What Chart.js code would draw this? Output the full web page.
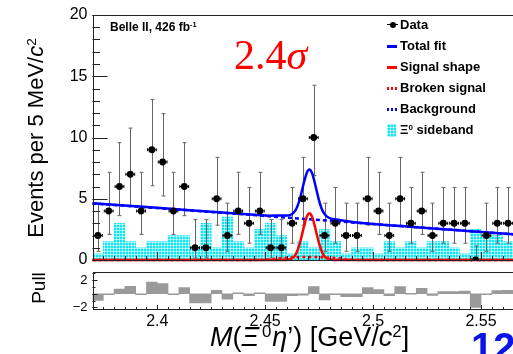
<!DOCTYPE html>
<html>
<head>
<meta charset="utf-8">
<script src="https://cdn.jsdelivr.net/npm/chart.js@4.4.1/dist/chart.umd.min.js"></script>
<style>
  html, body { margin: 0; padding: 0; background: #fff; overflow: hidden; }
  #wrap { position: relative; width: 513px; height: 354px; overflow: hidden;
          font-family: "Liberation Sans", Arial, sans-serif; color: #000; }
  canvas { position: absolute; left: 0; }
  #main { top: 0; }
  #pull { top: 262px; }
  .t { position: absolute; white-space: nowrap; }
  .leg { position: absolute; left: 400px; font: bold 13px "Liberation Sans", Arial, sans-serif; line-height: 16px; }
  .sym { position: absolute; left: 387px; width: 10px; }
  .rot { position: absolute; transform: rotate(-90deg); text-align: center; white-space: nowrap; }
  sup { font-size: 62%; vertical-align: 0; position: relative; top: -0.55em; }
</style>
</head>
<body>
<div id="wrap">
  <canvas id="main" width="540" height="264"></canvas>
  <canvas id="pull" width="540" height="92"></canvas>

  <div class="t" style="left:110px;top:20px;font:bold 12px 'Liberation Sans',Arial,sans-serif;">Belle II, 426 fb<sup>-1</sup></div>
  <div class="t" style="left:234px;top:34px;font:42px 'Liberation Serif','DejaVu Serif',serif;line-height:42px;color:#f00;">2.4<i>σ</i></div>

  <!-- legend -->
  <div class="sym" style="top:24px;height:1px;background:#000;width:11px;"></div>
  <div class="sym" style="top:21.5px;left:389.5px;width:6px;height:6px;border-radius:50%;background:#000;"></div>
  <div class="leg" style="top:17px;">Data</div>
  <div class="sym" style="top:44.5px;height:3px;background:#00f;"></div>
  <div class="leg" style="top:38px;">Total fit</div>
  <div class="sym" style="top:65.5px;height:3px;background:#f00;"></div>
  <div class="leg" style="top:59px;">Signal shape</div>
  <div class="sym" style="top:86.5px;height:3px;background:repeating-linear-gradient(90deg,#f00 0 2.5px,transparent 2.5px 4px);"></div>
  <div class="leg" style="top:80px;">Broken signal</div>
  <div class="sym" style="top:107.5px;height:3px;background:repeating-linear-gradient(90deg,#00f 0 2.5px,transparent 2.5px 4px);"></div>
  <div class="leg" style="top:101px;">Background</div>
  <div class="sym" style="top:124px;height:13px;width:9px;background-color:#12e4f0;background-image:linear-gradient(rgba(255,255,255,.55) 1px,transparent 1px),linear-gradient(90deg,rgba(255,255,255,.55) 1px,transparent 1px);background-size:3px 3px;"></div>
  <div class="leg" style="top:122px;">Ξ<sup>0</sup> sideband</div>

  <!-- axis titles -->
  <div class="rot" style="left:-84px;top:125px;width:240px;height:26px;line-height:26px;font-size:22px;">Events per 5 MeV/<i>c</i><sup>2</sup></div>
  <div class="rot" style="left:9px;top:277px;width:60px;height:22px;line-height:22px;font-size:19px;">Pull</div>
  <div class="t" style="left:210px;top:322px;font-size:27px;line-height:30px;"><i>M</i>(<i>Ξ</i><sup style="margin:0 1px 0 3px;">0</sup><i>η</i>’) [GeV/<i>c</i><sup>2</sup>]</div>

  <div class="t" style="left:471px;top:327px;font:bold 40px 'Liberation Sans',Arial,sans-serif;line-height:40px;color:#0a14e6;">12</div>
</div>

<script>
// bins of 5 MeV/c^2, starting at 2.37 GeV/c^2
const binCenters = [2.3725, 2.3775, 2.3825, 2.3875, 2.3925, 2.3975, 2.4025, 2.4075, 2.4125, 2.4175,
  2.4225, 2.4275, 2.4325, 2.4375, 2.4425, 2.4475, 2.4525, 2.4575, 2.4625, 2.4675,
  2.4725, 2.4775, 2.4825, 2.4875, 2.4925, 2.4975, 2.5025, 2.5075, 2.5125, 2.5175,
  2.5225, 2.5275, 2.5325, 2.5375, 2.5425, 2.5475, 2.5525, 2.5575, 2.5625];
const binHalfWidth = 0.0025;

const counts = [2, 4, 6, 7, 4, 9, 8, 4, 6, 1, 1, 5, 2, 4, 3, 4, 1, 1, 3, 5,
  10, 2, 3, 2, 2, 5, 4, 2, 5, 3, 4, 2, 3, 3, 3, 0, 2, 3, 3];

// Poisson interval edges for a count n (index = n)
const poissonLow = [0, 0.17, 0.71, 1.37, 2.09, 2.84, 3.62, 4.42, 5.23, 6.06, 6.89];
const poissonHigh = [1.15, 3.30, 4.64, 5.92, 7.16, 8.38, 9.58, 10.77, 11.95, 13.11, 14.27];

const sideband = [0.5, 1.5, 3, 1.5, 1, 1.5, 1.5, 2, 2, 1, 3, 1, 3.5, 1.5, 1, 2.5, 3, 2, 0.5, 1.5,
  1, 2.5, 1.5, 0.5, 1, 1, 0.5, 1.5, 1, 1.5, 1, 1.5, 1.5, 1, 0.5, 2.5, 2, 2, 1.5];

const pulls = [-1.0, -0.1, 0.7, 1.1, -0.15, 1.7, 1.5, -0.1, 0.9, -1.35, -1.35, 0.5, -0.8, 0.1, -0.3, 0.1,
  -1.15, -1.15, -0.3, -0.2, 1.05, -0.9, -0.1, -0.45, -0.45, 0.9, 0.6, -0.3, 1.05, 0.0, 0.8, -0.25,
  0.3, 0.3, 0.4, -2.0, -0.1, 0.45, 0.5];

// fit curves
const bkgX = [2.37, 2.40, 2.43, 2.46, 2.49, 2.52, 2.55, 2.575];
const bkgY = [4.62, 4.24, 3.86, 3.46, 3.07, 2.68, 2.29, 1.97];

const sigX = [2.37, 2.4585, 2.4605, 2.4625, 2.464, 2.465, 2.466, 2.467, 2.468, 2.4693, 2.4705,
  2.4717, 2.473, 2.474, 2.475, 2.476, 2.477, 2.4785, 2.4805, 2.4825, 2.575];
const sigY = [0, 0, 0.02, 0.14, 0.42, 0.79, 1.33, 2.02, 2.76, 3.54, 3.82,
  3.54, 2.76, 2.02, 1.33, 0.79, 0.42, 0.14, 0.02, 0, 0];

const brokenX = [2.37, 2.445, 2.452, 2.458, 2.464, 2.4705, 2.477, 2.483, 2.489, 2.496, 2.575];
const brokenY = [0, 0, 0.05, 0.15, 0.22, 0.25, 0.22, 0.15, 0.05, 0, 0];

const totalX = [2.37, 2.40, 2.43, 2.445, 2.452, 2.458, 2.4605, 2.4625, 2.464, 2.465, 2.466, 2.467, 2.468,
  2.4693, 2.4705, 2.4717, 2.473, 2.474, 2.475, 2.476, 2.477, 2.4785, 2.4805, 2.483, 2.489, 2.496,
  2.52, 2.55, 2.575];
const totalY = [4.64, 4.26, 3.88, 3.69, 3.62, 3.64, 3.64, 3.76, 4.05, 4.42, 4.94, 5.63, 6.36,
  7.13, 7.39, 7.10, 6.29, 5.54, 4.82, 4.27, 3.88, 3.56, 3.38, 3.31, 3.14, 3.0,
  2.68, 2.29, 1.97];

const xMin = 2.37;
const xMax = 2.575;
const xTicks = [2.40, 2.45, 2.50, 2.55];
const yTicks = [0, 5, 10, 15, 20];
const pullTicks = [-2, 0, 2];

const FONT = '"Liberation Sans", Arial, sans-serif';
const AXIS_W = 92.5;

const xy = (xs, ys) => xs.map((x, i) => ({ x, y: ys[i] }));
const steps = (from, to, step) => {
  const out = [];
  for (let v = from; v <= to + 1e-9; v += step) out.push(+v.toFixed(4));
  return out;
};
// fixed axis sizes, no extra room for overhanging tick labels
const fixWidth = (s) => { s.width = AXIS_W; s.paddingTop = 0; s.paddingBottom = 0; };
const fixHeight = (h) => (s) => { s.height = h; s.paddingLeft = 0; s.paddingRight = 0; };
const noGrid = { display: false, drawTicks: false };

// ROOT-like frame with ticks pointing inwards
const rootFrame = {
  id: 'rootFrame',
  afterDraw(chart, args, o) {
    const { ctx, chartArea: a, scales: { x, y } } = chart;
    ctx.save();
    ctx.strokeStyle = '#222';
    ctx.lineWidth = 1;
    ctx.beginPath();
    const vx = (vals, len) => vals.forEach((v) => {
      const px = Math.round(x.getPixelForValue(v)) + 0.5;
      ctx.moveTo(px, a.bottom);
      ctx.lineTo(px, a.bottom - len);
    });
    const vy = (vals, len) => vals.forEach((v) => {
      const py = Math.round(y.getPixelForValue(v)) + 0.5;
      ctx.moveTo(a.left, py);
      ctx.lineTo(a.left + len, py);
    });
    vx(o.xMinor, o.xMinLen);
    vx(xTicks, o.xMajLen);
    vy(o.yMinor, o.yMinLen);
    vy(o.yMajor, o.yMajLen);
    ctx.stroke();
    ctx.strokeRect(Math.round(a.left) + 0.5, Math.round(a.top) + 0.5, a.width, Math.round(a.height));
    ctx.restore();
  },
};

// error bars go on top of the sideband histogram, under the curves
const errorBars = {
  id: 'errorBars',
  afterDatasetDraw(chart, args) {
    if (args.index !== 0) return;
    const { ctx, scales: { x, y } } = chart;
    ctx.save();
    ctx.lineWidth = 1;
    binCenters.forEach((c, i) => {
      const n = counts[i];
      const px = Math.round(x.getPixelForValue(c)) + 0.5;
      const top = y.getPixelForValue(poissonHigh[n]);
      const bot = y.getPixelForValue(poissonLow[n]);
      const py = y.getPixelForValue(n);
      ctx.strokeStyle = '#666';
      ctx.beginPath();
      ctx.moveTo(px, top); ctx.lineTo(px, bot);
      ctx.moveTo(px - 2, top); ctx.lineTo(px + 2, top);
      if (n > 0) { ctx.moveTo(px - 2, bot); ctx.lineTo(px + 2, bot); }
      ctx.stroke();
      const l = x.getPixelForValue(c - binHalfWidth) + 1;
      const r = x.getPixelForValue(c + binHalfWidth) - 1;
      ctx.strokeStyle = '#000';
      ctx.beginPath();
      ctx.moveTo(l, py); ctx.lineTo(r, py);
      ctx.moveTo(l, py - 1.5); ctx.lineTo(l, py + 1.5);
      ctx.moveTo(r, py - 1.5); ctx.lineTo(r, py + 1.5);
      ctx.stroke();
    });
    ctx.restore();
  },
};

// cyan fill with a light grid, like the ROOT hatch style
function hatch(target) {
  const c = document.createElement('canvas');
  c.width = 3;
  c.height = 3;
  const g = c.getContext('2d');
  g.fillStyle = '#12e4f0';
  g.fillRect(0, 0, 3, 3);
  g.fillStyle = 'rgba(255,255,255,0.55)';
  g.fillRect(2, 0, 1, 3);
  g.fillRect(0, 2, 3, 1);
  return target.getContext('2d').createPattern(c, 'repeat');
}

const mainCanvas = document.getElementById('main');
const curve = (label, xs, ys, color, width, dash, order) => ({
  label,
  data: xy(xs, ys),
  borderColor: color,
  borderWidth: width,
  borderDash: dash,
  pointRadius: 0,
  fill: false,
  cubicInterpolationMode: 'monotone',
  clip: 4,
  order,
});

new Chart(mainCanvas, {
  type: 'line',
  data: {
    datasets: [
      {
        type: 'bar',
        label: 'Ξ0 sideband',
        data: xy(binCenters, sideband),
        backgroundColor: hatch(mainCanvas),
        borderWidth: 0,
        barPercentage: 1,
        categoryPercentage: 1,
        order: 6,
      },
      curve('Background', bkgX, bkgY, '#0000ff', 2.5, [4, 3], 5),
      curve('Broken signal', brokenX, brokenY, '#ff0000', 2.5, [3, 3], 4),
      curve('Signal shape', sigX, sigY, '#ff0000', 2.5, [], 3),
      curve('Total fit', totalX, totalY, '#0000ff', 2.5, [], 2),
      {
        type: 'scatter',
        label: 'Data',
        data: xy(binCenters, counts),
        pointRadius: 3.4,
        pointBackgroundColor: '#000',
        pointBorderWidth: 0,
        order: 0,
      },
    ],
  },
  options: {
    responsive: false,
    animation: false,
    // the hidden x axis still leaves ~5px below the plot, canvas height covers it
    layout: { padding: { top: 15, right: 5, bottom: 0, left: 0 } },
    plugins: {
      legend: { display: false },
      tooltip: { enabled: false },
      rootFrame: {
        xMinor: steps(xMin, xMax, 0.005), xMinLen: 4, xMajLen: 8,
        yMajor: yTicks, yMinor: steps(0, 20, 1), yMajLen: 15, yMinLen: 7.5,
      },
    },
    scales: {
      x: { type: 'linear', min: xMin, max: xMax, offset: false, display: false },
      y: {
        min: 0,
        max: 20,
        afterFit: fixWidth,
        afterBuildTicks: (s) => { s.ticks = yTicks.map((v) => ({ value: v })); },
        grid: noGrid,
        border: { display: false },
        ticks: { color: '#000', padding: 5, font: { family: FONT, size: 16 } },
      },
    },
  },
  plugins: [rootFrame, errorBars],
});

new Chart(document.getElementById('pull'), {
  type: 'bar',
  data: {
    datasets: [{
      label: 'Pull',
      data: xy(binCenters, pulls),
      backgroundColor: '#9a9a9a',
      borderWidth: 0,
      minBarLength: 1,
      barPercentage: 1,
      categoryPercentage: 1,
    }],
  },
  options: {
    responsive: false,
    animation: false,
    layout: { padding: { top: 10, right: 5, bottom: 0, left: 0 } },
    plugins: {
      legend: { display: false },
      tooltip: { enabled: false },
      rootFrame: {
        xMinor: steps(xMin, xMax, 0.005), xMinLen: 2, xMajLen: 4,
        yMajor: pullTicks, yMinor: steps(-2, 3, 1), yMajLen: 5, yMinLen: 3,
      },
    },
    scales: {
      x: {
        type: 'linear',
        min: xMin,
        max: xMax,
        offset: false,
        afterFit: fixHeight(45),
        afterBuildTicks: (s) => { s.ticks = xTicks.map((v) => ({ value: v })); },
        grid: noGrid,
        border: { display: false },
        ticks: { color: '#000', padding: 3, maxRotation: 0, font: { family: FONT, size: 16 }, callback: (v) => String(v) },
      },
      y: {
        min: -2.25,
        max: 3.2,
        afterFit: fixWidth,
        afterBuildTicks: (s) => { s.ticks = pullTicks.map((v) => ({ value: v })); },
        grid: noGrid,
        border: { display: false },
        ticks: { color: '#000', padding: 5, font: { family: FONT, size: 13 }, callback: (v) => (v < 0 ? '−' + Math.abs(v) : String(v)) },
      },
    },
  },
  plugins: [rootFrame],
});
</script>
</body>
</html>
